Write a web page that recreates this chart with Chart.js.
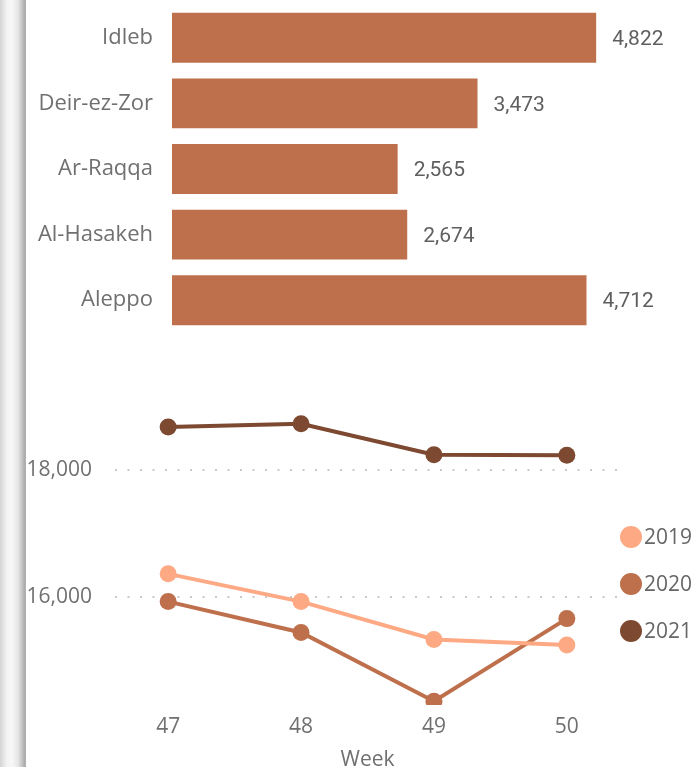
<!DOCTYPE html>
<html>
<head>
<meta charset="utf-8">
<script src="https://cdn.jsdelivr.net/npm/chart.js@4/dist/chart.umd.min.js"></script>
<style>
	html, body { margin: 0; padding: 0; background: #fff; overflow: hidden; }
	body { width: 692px; height: 767px; position: relative; }
	#shadow {
		position: absolute; left: 0; top: 0; width: 26px; height: 767px;
		background: linear-gradient(to right, #d4d4d4 0px, #f3f3f3 7px, #f7f7f7 12px, #e6e6e6 18px, #c4c4c4 22px, #a9a9a9 25px, #b8b8b8 26px);
	}
	#bars { position: absolute; left: 0; top: 0; }
	#lines { position: absolute; left: 0; top: 380px; }
</style>
</head>
<body>
<div id="shadow"></div>
<canvas id="bars" width="692" height="340"></canvas>
<canvas id="lines" width="692" height="400"></canvas>
<script>
// Top chart: by governorate
const governorates = [ 'Idleb', 'Deir-ez-Zor', 'Ar-Raqqa', 'Al-Hasakeh', 'Aleppo' ];
const governorateValues = [ 4822, 3473, 2565, 2674, 4712 ];

// Bottom chart: by week
const weeks = [ 47, 48, 49, 50 ];
const yearNames = [ '2019', '2020', '2021' ];
const values2019 = [ 16360, 15920, 15320, 15230 ];
const values2020 = [ 15920, 15430, 14340, 15650 ];
const values2021 = [ 18690, 18740, 18250, 18240 ];
const yTicks = [ 16000, 18000 ];

const barColor = '#BE6F4B';
const yearColors = [ '#FDA984', '#BE6F4B', '#7D4A31' ];
const textColor = '#707070';
const labelFont = '"Open Sans", "Liberation Sans", sans-serif';

function fmt( n ) {
	return n.toLocaleString( 'en-US' );
}

// value labels right of each bar
const barValueLabels = {
	id: 'barValueLabels',
	afterDatasetsDraw( chart ) {
		const ctx = chart.ctx;
		const meta = chart.getDatasetMeta( 0 );
		ctx.save();
		ctx.font = '21px Roboto, "DejaVu Sans Condensed", sans-serif';
		ctx.fillStyle = '#5f5f5f';
		ctx.textAlign = 'left';
		ctx.textBaseline = 'middle';
		meta.data.forEach( function( bar, i ) {
			ctx.fillText( fmt( governorateValues[ i ] ), bar.x + 16, bar.y + 2 );
		} );
		ctx.restore();
	}
};

new Chart( document.getElementById( 'bars' ), {
	type: 'bar',
	data: {
		labels: governorates,
		datasets: [ {
			data: governorateValues,
			backgroundColor: barColor,
			barPercentage: 0.76,
			categoryPercentage: 1
		} ]
	},
	options: {
		indexAxis: 'y',
		responsive: false,
		animation: false,
		layout: { padding: { top: 5, bottom: 7, right: 1, left: 0 } },
		plugins: { legend: { display: false }, tooltip: { enabled: false } },
		scales: {
			x: { display: false, min: 0, max: 5900 },
			y: {
				grid: { display: false, drawTicks: false },
				border: { display: false },
				ticks: { color: textColor, padding: 19, font: { family: labelFont, size: 22 } },
				afterFit( scale ) {
					scale.width = 172;
					scale.paddingTop = 0;
					scale.paddingBottom = 0;
				}
			}
		}
	},
	plugins: [ barValueLabels ]
} );

// legend on the right of the line chart
const yearLegend = {
	id: 'yearLegend',
	afterDraw( chart ) {
		const ctx = chart.ctx;
		ctx.save();
		ctx.font = '21px ' + labelFont;
		ctx.textAlign = 'left';
		ctx.textBaseline = 'middle';
		yearNames.forEach( function( name, i ) {
			const y = 157 + i * 47;
			ctx.fillStyle = yearColors[ i ];
			ctx.beginPath();
			ctx.arc( 631, y, 11, 0, Math.PI * 2 );
			ctx.fill();
			ctx.fillStyle = '#666';
			ctx.fillText( name, 644, y + 1 );
		} );
		ctx.restore();
	}
};

function series( values ) {
	return weeks.map( function( w, i ) { return { x: w, y: values[ i ] }; } );
}

const allYears = [ values2019, values2020, values2021 ];

new Chart( document.getElementById( 'lines' ), {
	type: 'line',
	data: {
		datasets: allYears.map( function( vals, i ) {
			return {
				label: yearNames[ i ],
				data: series( vals ),
				borderColor: yearColors[ i ],
				backgroundColor: yearColors[ i ],
				borderWidth: 4,
				pointRadius: 8.5,
				pointBorderWidth: 0,
				pointBackgroundColor: yearColors[ i ],
				tension: 0
			};
		} )
	},
	options: {
		responsive: false,
		animation: false,
		layout: { padding: { top: 6, right: 72, left: 0, bottom: 0 } },
		plugins: { legend: { display: false }, tooltip: { enabled: false } },
		scales: {
			x: {
				type: 'linear',
				min: 46.6,
				max: 50.4,
				grid: { display: false, drawTicks: false },
				border: { display: false },
				afterBuildTicks( scale ) { scale.ticks = weeks.map( function( w ) { return { value: w }; } ); },
				ticks: { color: textColor, padding: 9, font: { family: labelFont, size: 21 } },
				title: { display: true, text: 'Week', color: textColor, font: { family: labelFont, size: 21 }, padding: { top: 4, bottom: 7 } },
				afterFit( scale ) {
					scale.height = 75;
					scale.paddingLeft = 0;
					scale.paddingRight = 0;
				}
			},
			y: {
				min: 14280,
				max: 19300,
				afterBuildTicks( scale ) { scale.ticks = yTicks.map( function( v ) { return { value: v }; } ); },
				grid: { color: '#c8c8c8', lineWidth: 2, drawTicks: false },
				border: { display: false, dash: [ 2, 10.5 ] },
				ticks: {
					color: textColor,
					padding: 23,
					font: { family: labelFont, size: 21 },
					callback: function( v ) { return fmt( v ); }
				},
				afterFit( scale ) {
					scale.width = 115;
					scale.paddingTop = 0;
					scale.paddingBottom = 0;
				}
			}
		}
	},
	plugins: [ yearLegend ]
} );
</script>
</body>
</html>
